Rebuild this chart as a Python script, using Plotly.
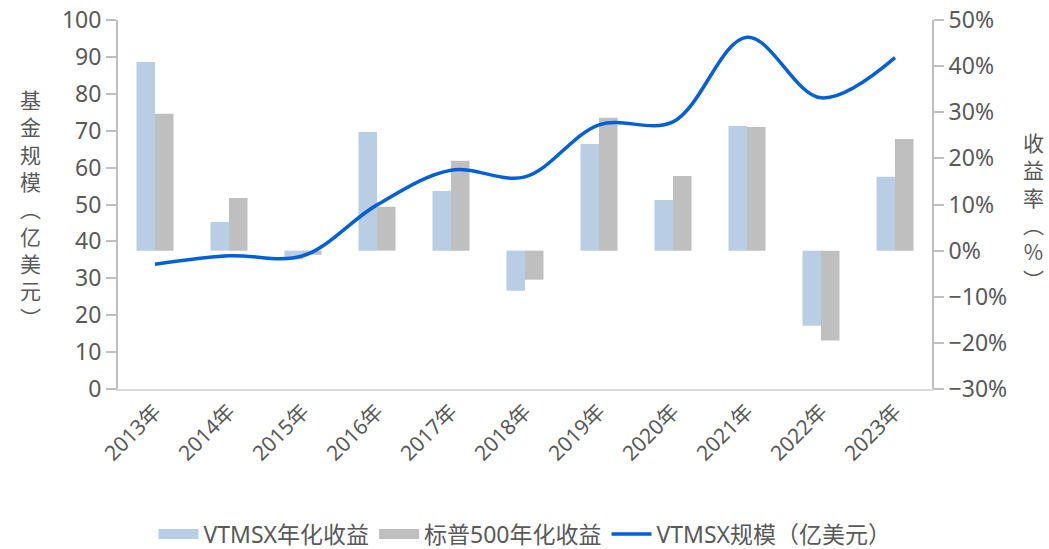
import plotly.graph_objects as go

years = ["2013年", "2014年", "2015年", "2016年", "2017年", "2018年",
         "2019年", "2020年", "2021年", "2022年", "2023年"]
vtmsx_return = [0.409, 0.062, -0.019, 0.257, 0.129, -0.087,
                0.231, 0.110, 0.270, -0.163, 0.160]
sp500_return = [0.297, 0.114, -0.009, 0.095, 0.195, -0.063,
                0.288, 0.162, 0.268, -0.195, 0.242]
vtmsx_size = [33.8, 36.1, 36.1, 49.9, 59.3, 57.5, 71.6, 72.4, 95.3, 78.9, 89.8]

left_ticks = list(range(0, 101, 10))
right_ticks = [-0.3, -0.2, -0.1, 0.0, 0.1, 0.2, 0.3, 0.4, 0.5]

FONT = "Noto Sans, Noto Sans CJK SC, sans-serif"
TXT = "#595959"
AX = "#BFBFBF"
C_VT = "#B9CDE5"
C_SP = "#BFBFBF"
C_LINE = "#005FDB"

fig = go.Figure()
fig.add_trace(go.Bar(x=years, y=vtmsx_return, name="VTMSX年化收益", showlegend=False,
                     marker=dict(color=C_VT, line=dict(width=0)), yaxis="y"))
fig.add_trace(go.Bar(x=years, y=sp500_return, name="标普500年化收益", showlegend=False,
                     marker=dict(color=C_SP, line=dict(width=0)), yaxis="y"))
fig.add_trace(go.Scatter(x=years, y=vtmsx_size, name="VTMSX规模（亿美元）", showlegend=False,
                         mode="lines", line=dict(color=C_LINE, width=3.5, shape="spline", smoothing=1.0),
                         yaxis="y2"))
# legend-only entries (wide swatches like the reference)
fig.add_trace(go.Scatter(x=[None], y=[None], name="VTMSX年化收益", mode="lines",
                         line=dict(color=C_VT, width=17), yaxis="y"))
fig.add_trace(go.Scatter(x=[None], y=[None], name="标普500年化收益", mode="lines",
                         line=dict(color=C_SP, width=17), yaxis="y"))
fig.add_trace(go.Scatter(x=[None], y=[None], name="VTMSX规模（亿美元）", mode="lines",
                         line=dict(color=C_LINE, width=3.5), yaxis="y2"))

fig.update_layout(
    width=1049, height=549,
    margin=dict(l=118, r=117, t=20, b=160, autoexpand=False),
    paper_bgcolor="white", plot_bgcolor="white",
    font=dict(family=FONT, color=TXT, size=20),
    barmode="group", bargap=0.5, bargroupgap=0,
    showlegend=True,
    legend=dict(orientation="h", x=(525 - 118) / 814, xanchor="center", y=-(534 - 389) / 369,
                yanchor="middle", font=dict(size=23, color=TXT, family=FONT), itemwidth=40,
                traceorder="normal", tracegroupgap=0),
    xaxis=dict(showline=True, linecolor="#D9D9D9", linewidth=2, ticks="",
               tickangle=-45, tickfont=dict(size=21, color=TXT), showgrid=False,
               zeroline=False, automargin=False),
    yaxis=dict(side="right", range=[-0.3, 0.5], tickvals=right_ticks, tickformat=".0%",
               showline=True, linecolor=AX, linewidth=2, ticks="outside", ticklen=10,
               tickcolor=AX, tickwidth=1.5, showgrid=False, zeroline=False, automargin=False,
               tickfont=dict(size=23, color=TXT)),
    yaxis2=dict(side="left", overlaying="y", range=[0, 100], tickvals=left_ticks,
                showline=True, linecolor=AX, linewidth=2, ticks="outside", ticklen=10,
                tickcolor=AX, tickwidth=1.5, showgrid=False, zeroline=False, automargin=False,
                tickfont=dict(size=23, color=TXT)),
)

left_title = "<br>".join(list("基金规模") + ["︵"] + list("亿美元") + ["︶"])
right_title = "<br>".join(list("收益率") + ["︵", "%", "︶"])
fig.add_annotation(text=left_title, xref="paper", yref="paper",
                   x=(30 - 118) / 814, y=(389 - 208) / 369, xanchor="center", yanchor="middle",
                   showarrow=False, font=dict(size=21, color=TXT, family="Noto Sans CJK SC"))
fig.add_annotation(text=right_title, xref="paper", yref="paper",
                   x=(1033 - 118) / 814, y=(389 - 210) / 369, xanchor="center", yanchor="middle",
                   showarrow=False, font=dict(size=21, color=TXT, family="Noto Sans CJK SC"))

fig.write_html("out.html", config={"displayModeBar": False},
               post_script="document.body.style.margin='0';document.body.style.overflow='hidden';")
